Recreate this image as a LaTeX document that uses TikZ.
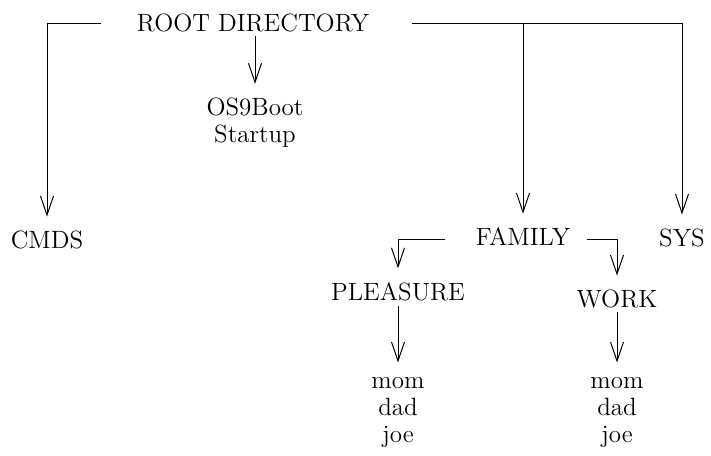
\documentclass[tikz,border=0pt]{standalone}
\usetikzlibrary{arrows.meta,positioning}

\begin{document}
\begin{tikzpicture}[
		x=0.5pt, y=-0.5pt,
		arrow/.style={-{Straight Barb[length=9.5pt,width=6.5pt]}, line width=0.5pt, shorten >=5pt},
		dir/.style={inner sep=2pt, align=center, font=\fontsize{12.5}{13.5}\selectfont},
	]
		\useasboundingbox (0,0) rectangle (711,455);
		\node (root) [dir] at (253,23) {ROOT DIRECTORY};
		\node (boot) [dir] at (255,123) {OS9Boot\\Startup};
		\node (cmds) [dir] at (47,240) {CMDS};
		\node (fam) [dir] at (523,237) {FAMILY};
		\node (sys) [dir] at (682,238) {SYS};
		\node (pls) [dir] at (398,292) {PLEASURE};
		\node (work) [dir] at (617,299) {WORK};
		\node (plsusr) [dir] at (398,412) {mom\\dad\\joe};
		\node (workusr) [dir] at (617,412) {mom\\dad\\joe};
		\coordinate (rl) at ([xshift=-16pt]root.west);
		\coordinate (rr) at ([xshift=19pt]root.east);
		\coordinate (fl) at ([xshift=-13pt,yshift=-1pt]fam.west);
		\coordinate (fr) at ([xshift=6pt,yshift=-1pt]fam.east);
		
		\draw[arrow] (rl) -| (cmds);
		\draw[arrow] (root.south -| boot) -- (boot);
		\draw[arrow] (rr) -| (sys);
		\draw[arrow] (rr -| fam) -- (fam);
		\draw[arrow] (fl) -| (pls);
		\draw[arrow] (fr) -| (work);
		\draw[arrow] (pls) -- (plsusr);
		\draw[arrow] (work) -- (workusr);
	\end{tikzpicture}
\end{document}
